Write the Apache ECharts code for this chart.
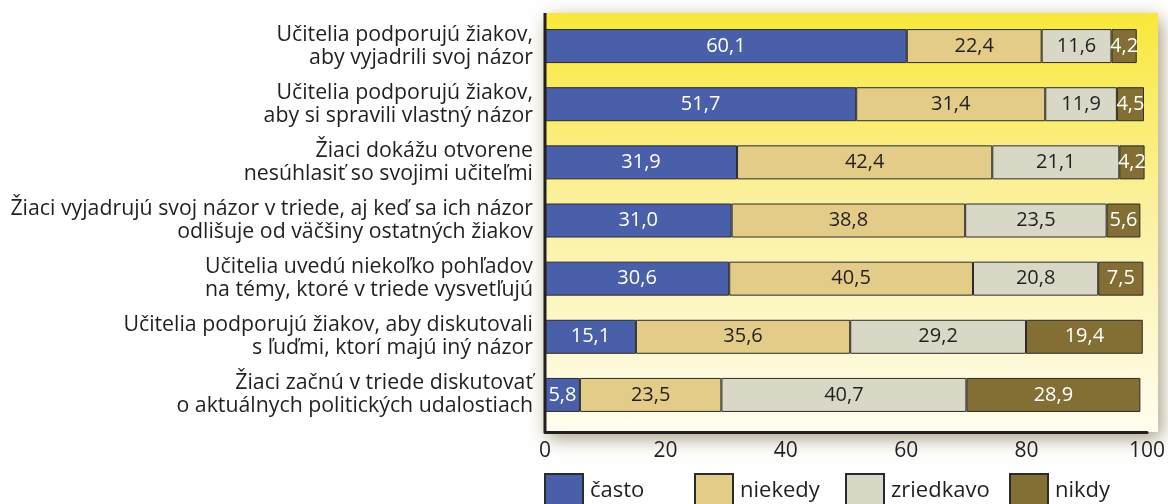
<!DOCTYPE html>
<html>
<head>
<meta charset="utf-8">
<script src="https://cdn.jsdelivr.net/npm/echarts@6/dist/echarts.min.js"></script>
<style>
  html, body { margin: 0; padding: 0; background: #fff; }
  #chart { width: 1168px; height: 504px; }
</style>
</head>
<body>
<div id="chart"></div>
<script>
// data
const categories = [
  'Učitelia podporujú žiakov,\naby vyjadrili svoj názor',
  'Učitelia podporujú žiakov,\naby si spravili vlastný názor',
  'Žiaci dokážu otvorene\nnesúhlasiť so svojimi učiteľmi',
  'Žiaci vyjadrujú svoj názor v triede, aj keď sa ich názor\nodlišuje od väčšiny ostatných žiakov',
  'Učitelia uvedú niekoľko pohľadov\nna témy, ktoré v triede vysvetľujú',
  'Učitelia podporujú žiakov, aby diskutovali\ns ľuďmi, ktorí majú iný názor',
  'Žiaci začnú v triede diskutovať\no aktuálnych politických udalostiach'
];
const casto     = [60.1, 51.7, 31.9, 31.0, 30.6, 15.1, 5.8];
const niekedy   = [22.4, 31.4, 42.4, 38.8, 40.5, 35.6, 23.5];
const zriedkavo = [11.6, 11.9, 21.1, 23.5, 20.8, 29.2, 40.7];
const nikdy     = [4.2, 4.5, 4.2, 5.6, 7.5, 19.4, 28.9];
const seriesNames = ['často', 'niekedy', 'zriedkavo', 'nikdy'];
const xTicks = [0, 20, 40, 60, 80, 100];

const FONT = '"Open Sans", "Noto Sans", sans-serif';
const colors = ['#4a5fa9', '#e3cb88', '#d9d7c6', '#836f33'];
const labelColors = ['#ffffff', '#231f20', '#231f20', '#ffffff'];
const values = [casto, niekedy, zriedkavo, nikdy];

const chart = echarts.init(document.getElementById('chart'));

const makeSeries = (i) => ({
  name: seriesNames[i],
  type: 'bar',
  stack: 'total',
  barWidth: 34,
  data: values[i],
  itemStyle: { color: colors[i], borderColor: '#2b2b2b', borderWidth: 1 },
  label: {
    show: true,
    position: 'inside',
    color: labelColors[i],
    fontFamily: FONT,
    fontSize: 20,
    formatter: (p) => p.value.toFixed(1).replace('.', ',')
  },
  emphasis: { disabled: true },
  z: 5
});

// legend columns as in the reference
const legendLefts = [544, 694, 845, 1009];

chart.setOption({
  animation: false,
  textStyle: { fontFamily: FONT },
  graphic: [
    {
      type: 'rect',
      z: -10,
      shape: { x: 545, y: 13, width: 613, height: 419 },
      style: {
        fill: new echarts.graphic.LinearGradient(0, 0, 0, 1, [
          { offset: 0, color: '#f8e83a' },
          { offset: 0.45, color: '#fbf09c' },
          { offset: 1, color: '#fffdf0' }
        ]),
        shadowBlur: 18,
        shadowColor: 'rgba(100, 85, 30, 0.6)',
        shadowOffsetX: 3,
        shadowOffsetY: 6
      }
    },
    {
      type: 'line',
      z: 10,
      shape: { x1: 545, y1: 13, x2: 545, y2: 432 },
      style: { stroke: '#231f20', lineWidth: 3 }
    }
  ],
  legend: seriesNames.map((n, i) => ({
    data: [n],
    icon: 'rect',
    left: legendLefts[i],
    top: 473,
    padding: 0,
    itemWidth: 38,
    itemHeight: 34,
    selectedMode: false,
    textStyle: { fontFamily: FONT, fontSize: 22, color: '#231f20', padding: [0, 0, 0, 2] }
  })),
  grid: { left: 545, right: 18, top: 17, bottom: 80, containLabel: false },
  xAxis: {
    type: 'value',
    min: xTicks[0],
    max: xTicks[xTicks.length - 1],
    interval: 20,
    offset: 8,
    axisLine: { show: true, lineStyle: { color: '#231f20', width: 3 } },
    axisTick: { show: false },
    splitLine: { show: false },
    axisLabel: { fontFamily: FONT, fontSize: 21, color: '#231f20', margin: 9 }
  },
  yAxis: {
    type: 'category',
    inverse: true,
    data: categories,
    axisLine: { show: false },
    axisTick: { show: false },
    axisLabel: {
      fontFamily: FONT,
      fontSize: 21.3,
      lineHeight: 23,
      color: '#231f20',
      align: 'right',
      margin: 12
    }
  },
  series: [0, 1, 2, 3].map(makeSeries)
});
</script>
</body>
</html>
